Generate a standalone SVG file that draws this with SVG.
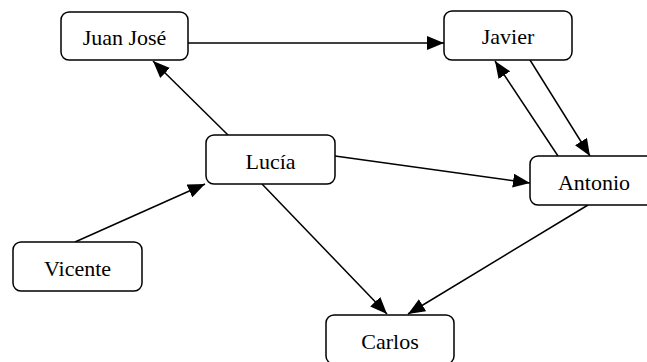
<svg xmlns="http://www.w3.org/2000/svg" width="647" height="362" viewBox="0 0 647 362">
<style>
.node rect{fill:#fff;stroke:#000;stroke-width:1.5}
.node text{font-family:'Liberation Serif','Times New Roman',Times,serif;font-size:22px;fill:#000;text-anchor:middle}
.edges line{stroke:#000;stroke-width:1.5;fill:none;marker-end:url(#ah)}
</style>
<defs>
<marker id="ah" markerUnits="userSpaceOnUse" markerWidth="18" markerHeight="14" refX="17" refY="7" orient="auto">
<path d="M0,0 L17,7 L0,14 z" fill="#000"/>
</marker>
</defs>
<rect width="647" height="362" fill="#fff"/>
<g class="edges">
<line x1="188" y1="43" x2="444" y2="43"/>
<line x1="228" y1="135" x2="153" y2="61"/>
<line x1="75" y1="242" x2="205" y2="184"/>
<line x1="335" y1="156" x2="530" y2="183"/>
<line x1="262" y1="184" x2="387" y2="314"/>
<line x1="588" y1="205" x2="408" y2="314"/>
<line x1="530" y1="60" x2="590" y2="156"/>
<line x1="558" y1="156" x2="495" y2="61"/>
</g>
<g id="juanjose" class="node"><rect x="61" y="12" width="127" height="48" rx="8"/><text x="124.5" y="45" font-family="Liberation Serif, serif">Juan José</text></g>
<g id="javier" class="node"><rect x="444" y="11" width="128" height="49" rx="8"/><text x="508" y="44" font-family="Liberation Serif, serif">Javier</text></g>
<g id="lucia" class="node"><rect x="206" y="135" width="129" height="49" rx="8"/><text x="270.5" y="169" font-family="Liberation Serif, serif">Lucía</text></g>
<g id="antonio" class="node"><rect x="530" y="156" width="128" height="49" rx="8"/><text x="594" y="190" font-family="Liberation Serif, serif">Antonio</text></g>
<g id="vicente" class="node"><rect x="13" y="242" width="129" height="49" rx="8"/><text x="77.5" y="276" font-family="Liberation Serif, serif">Vicente</text></g>
<g id="carlos" class="node"><rect x="326" y="315" width="128" height="49" rx="8"/><text x="390" y="349" font-family="Liberation Serif, serif">Carlos</text></g>
</svg>
